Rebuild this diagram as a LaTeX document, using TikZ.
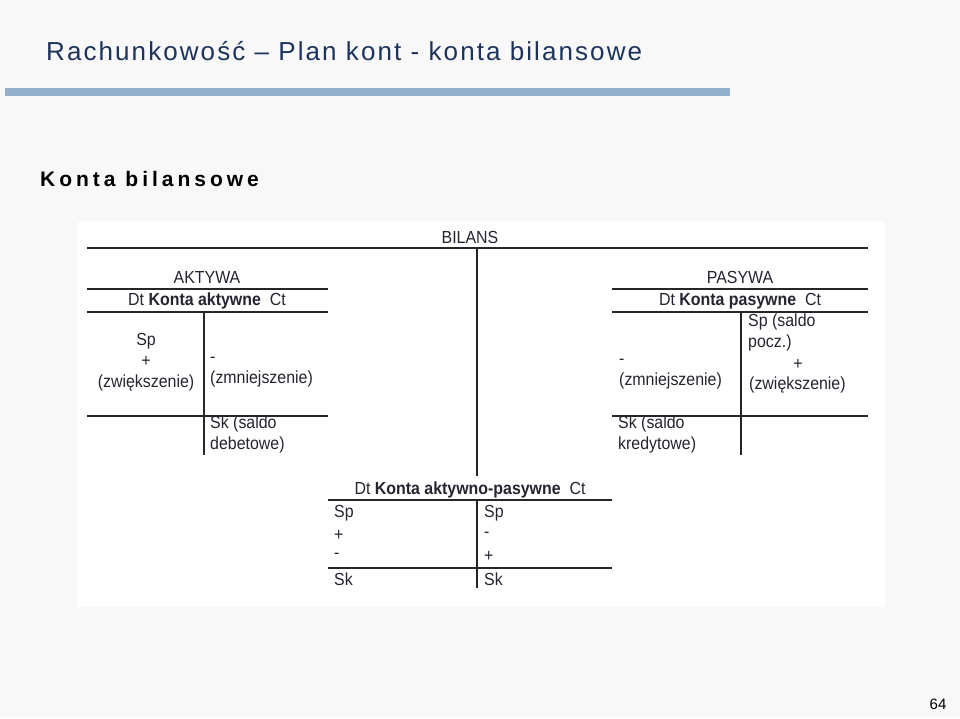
\documentclass[tikz,border=0pt]{standalone}
\usepackage{fontspec}
\setmainfont{Liberation Sans}
\newfontfamily\tablefont[FakeStretch=0.91]{Liberation Sans}
\definecolor{titleblue}{RGB}{28,52,92}
\definecolor{barblue}{RGB}{148,175,201}
\definecolor{slidegray}{RGB}{248,248,248}
\definecolor{inkgray}{RGB}{40,35,48}

\begin{document}
\begin{tikzpicture}[x=1pt,y=-1pt,
  cell/.style={inner sep=0pt,text=inkgray,font=\tablefont\fontsize{17.5}{21}\selectfont},
  rule/.style={line width=1.3pt,draw=black!85}]
\useasboundingbox (0,0) rectangle (960,718);
\fill[slidegray] (0,0) rectangle (960,718);
\fill[barblue] (5,88) rectangle (730,96);
\fill[white] (78,222) rectangle (885,607);
\node[anchor=west,inner sep=0pt,text=titleblue,font=\fontsize{26}{30}\selectfont\addfontfeature{LetterSpace=8}] (title) at (46,51) {Rachunkowość – Plan kont - konta bilansowe};
\node[anchor=west,inner sep=0pt,font=\fontsize{21}{25}\selectfont\bfseries\addfontfeature{LetterSpace=19}] (heading) at (40,179) {Konta bilansowe};
\draw[rule] (87,248) -- (868,248);
\draw[rule] (477,248) -- (477,476);
\draw (470,237) node[cell] (bilans) {BILANS};
\draw[rule] (87,289) -- (328,289);
\draw[rule] (87,312) -- (328,312);
\draw[rule] (204,312) -- (204,455);
\draw[rule] (87,416) -- (328,416);
\draw (207,277) node[cell] (aktywa) {AKTYWA};
\draw (207,301) node[cell] (aktywne) {Dt \textbf{Konta aktywne}\ \ Ct};
\draw (146,362) node[cell,align=center] (aktdt) {Sp\\+\\(zwiększenie)};
\draw (210,372.5) node[cell,anchor=west,align=left] (aktct) {-\\(zmniejszenie)};
\draw (210,434.5) node[cell,anchor=west,align=left] (aktsk) {Sk (saldo\\debetowe)};
\draw[rule] (612,289) -- (868,289);
\draw[rule] (612,312) -- (868,312);
\draw[rule] (741,312) -- (741,455);
\draw[rule] (612,416) -- (868,416);
\draw (740,277) node[cell] (pasywa) {PASYWA};
\draw (740,301) node[cell] (pasywne) {Dt \textbf{Konta pasywne}\ \ Ct};
\draw (748,332.5) node[cell,anchor=west,align=left] (passp) {Sp (saldo\\pocz.)};
\draw (798,364) node[cell] (pasplus) {+};
\draw (749,385) node[cell,anchor=west] (pasinc) {(zwiększenie)};
\draw (619,374.5) node[cell,anchor=west,align=left] (pasdt) {-\\(zmniejszenie)};
\draw (618,434.5) node[cell,anchor=west,align=left] (passk) {Sk (saldo\\kredytowe)};
\draw[rule] (328,500) -- (612,500);
\draw[rule] (477,500) -- (477,588);
\draw[rule] (328,568) -- (612,568);
\draw (470,490) node[cell] (aktpas) {Dt \textbf{Konta aktywno-pasywne}\ \ Ct};
\draw (334,513) node[cell,anchor=west] (apsp1) {Sp};
\draw (334,535) node[cell,anchor=west] (applus1) {+};
\draw (334,556) node[cell,anchor=west] (apminus1) {-};
\draw (334,579) node[cell,anchor=west] (apsk1) {Sk};
\draw (484,513) node[cell,anchor=west] (apsp2) {Sp};
\draw (484,535) node[cell,anchor=west] (apminus2) {-};
\draw (484,556) node[cell,anchor=west] (applus2) {+};
\draw (484,579) node[cell,anchor=west] (apsk2) {Sk};
\draw (938,704) node[inner sep=0pt,font=\fontsize{15}{18}\selectfont] (page) {64};
\end{tikzpicture}
\end{document}
